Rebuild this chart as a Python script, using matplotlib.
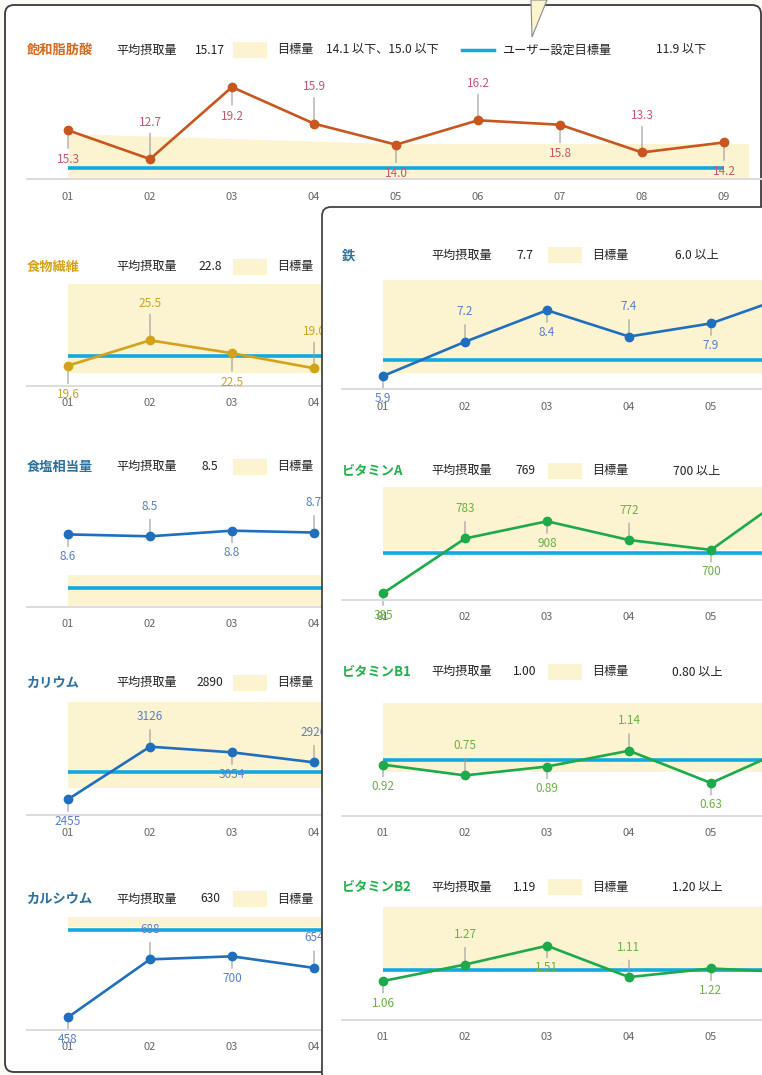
import matplotlib.pyplot as plt
from matplotlib.patches import FancyBboxPatch, Polygon, Rectangle
from matplotlib.lines import Line2D
from matplotlib.transforms import IdentityTransform

plt.rcParams['font.family'] = ['Noto Sans CJK JP', 'DejaVu Sans']

W, H = 762, 1075
months = ["01", "02", "03", "04", "05", "06", "07", "08", "09"]

# ----------------- data -----------------
sfa = [15.3, 12.7, 19.2, 15.9, 14.0, 16.2, 15.8, 13.3, 14.2]
sfa_target = [15.0, 14.775, 14.55, 14.325, 14.1, 14.1, 14.1, 14.1, 14.1]
fiber = [19.6, 25.5, 22.5, 19.0]
salt = [8.6, 8.5, 8.8, 8.7]
potassium = [2455, 3126, 3054, 2926]
calcium = [458, 688, 700, 654]
iron = [5.9, 7.2, 8.4, 7.4, 7.9, 9.0]
vit_a = [385, 783, 908, 772, 700, 1125]
vit_b1 = [0.92, 0.75, 0.89, 1.14, 0.63, 1.21]
vit_b2 = [1.06, 1.27, 1.51, 1.11, 1.22, 1.17]

# ----------------- colours -----------------
BAND = "#fcf3d1"
TARGET = "#12a9e1"
ORANGE = ("#c8561e", "#d2691e", "#c8566e")
GOLD = ("#d4a21a", "#d4a21a", "#c9a227")
BLUE = ("#1f6fbe", "#2b6f9c", "#5a7fc8")
GREEN = ("#1daa4b", "#22b04b", "#6bb043")

charts = [
    # left window
    dict(title="飽和脂肪酸", col=ORANGE, vals=sfa, fmt="{:.1f}", avg="15.17",
         target="14.1 以下、15.0 以下", user="11.9 以下", band=("below", sfa_target),
         blue=11.9, box=(70, 179), ylim=(10.9, 20.74), hy=50, xo=0, off=(37, 29, 26, 18), side="L"),
    dict(title="食物繊維", col=GOLD, vals=fiber, fmt="{:.1f}", avg="22.8",
         target=None, user=None, band=("above", 18.0),
         blue=21.9, box=(284, 385.7), ylim=(14.94, 38.6), hy=266.7, xo=0, off=(37, 29, 26, 18), side="L"),
    dict(title="食塩相当量", col=BLUE, vals=salt, fmt="{:.1f}", avg="8.5",
         target=None, user=None, band=("below", 6.43),
         blue=5.75, box=(500, 606.7), ylim=(4.735, 10.44), hy=466.7, xo=0, off=(30, 22, 17, 12), side="L"),
    dict(title="カリウム", col=BLUE, vals=potassium, fmt="{:d}", avg="2890",
         target=None, user=None, band=("above", 2600),
         blue=2800, box=(702.3, 815), ylim=(2255, 3692), hy=682.7, xo=0, off=(30, 22, 17, 12), side="L"),
    dict(title="カルシウム", col=BLUE, vals=calcium, fmt="{:d}", avg="630",
         target=None, user=None, band=("above", 815),
         blue=805, box=(917.3, 1030), ylim=(407.5, 855), hy=899, xo=0, off=(30, 22, 17, 12), side="L"),
    # right window
    dict(title="鉄", col=BLUE, vals=iron, fmt="{:.1f}", avg="7.7",
         target="6.0 以上", user=None, band=("above", 6.0),
         blue=6.5, box=(280, 389), ylim=(5.406, 9.55), hy=255, xo=315, off=(30, 22, 17, 12), side="R"),
    dict(title="ビタミンA", col=GREEN, vals=vit_a, fmt="{:d}", avg="769",
         target="700 以上", user=None, band=("above", 700),
         blue=680, box=(487.3, 600), ylim=(336.3, 1154.8), hy=470.7, xo=315, off=(30, 22, 17, 12), side="R"),
    dict(title="ビタミンB1", col=GREEN, vals=vit_b1, fmt="{:.2f}", avg="1.00",
         target="0.80 以上", user=None, band=("above", 0.80),
         blue=1.00, box=(702.7, 815.7), ylim=(0.113, 1.899), hy=671.7, xo=315, off=(30, 22, 17, 12), side="R"),
    dict(title="ビタミンB2", col=GREEN, vals=vit_b2, fmt="{:.2f}", avg="1.19",
         target="1.20 以上", user=None, band=("above", 1.20),
         blue=1.20, box=(907.3, 1020), ylim=(0.563, 2.0), hy=887.3, xo=315, off=(30, 22, 17, 12), side="R"),
]

fig = plt.figure(figsize=(W / 100, H / 100), dpi=100)
fig.patch.set_facecolor("#fbfbf8")
ident = IdentityTransform()


def fx(px):
    return px / W


def fy(py):
    return 1 - py / H


# main window and the window on top of it
fig.add_artist(FancyBboxPatch((5, H - 1072), 756, 1067, boxstyle="round,pad=0,rounding_size=9",
                              transform=ident, fc="white", ec="#3a3a3a", lw=1.3, zorder=0.5))
fig.add_artist(FancyBboxPatch((322, -30), 520, H - 207 + 30, boxstyle="round,pad=0,rounding_size=9",
                              transform=ident, fc="white", ec="#444444", lw=1.3, zorder=2))
fig.add_artist(Polygon([(531, H), (547, H), (532, H - 37)], closed=True, transform=ident,
                       fc="#fbf4cc", ec="#8a8a8a", lw=0.8, zorder=5))


def header(c, z):
    xo, y = c["xo"], c["hy"]
    line_col, title_col, _ = c["col"]
    kw = dict(va="center", fontsize=8.7, color="#222222", zorder=z)
    fig.text(fx(xo + 27), fy(y), c["title"], ha="left", fontsize=9.5, fontweight="bold",
             color=title_col, va="center", zorder=z)
    fig.text(fx(xo + 116), fy(y), "平均摂取量", ha="left", **kw)
    fig.text(fx(xo + 210), fy(y), c["avg"], ha="center", **kw)
    fig.add_artist(Rectangle((xo + 233, H - y - 8), 34, 16, transform=ident,
                             fc=BAND, ec="none", zorder=z))
    fig.text(fx(xo + 277), fy(y), "目標量", ha="left", **kw)
    if c["target"]:
        fig.text(fx(xo + 382), fy(y), c["target"], ha="center", **kw)
    if c["user"]:
        fig.add_artist(Line2D([xo + 462, xo + 494], [H - y, H - y], transform=ident,
                              color=TARGET, lw=2.5, zorder=z))
        fig.text(fx(xo + 502), fy(y), "ユーザー設定目標量", ha="left", **kw)
        fig.text(fx(xo + 656), fy(y), c["user"], ha="left", **kw)


for c in charts:
    left = c["side"] == "L"
    z_ax = 1 if left else 3
    header(c, 1.5 if left else 4)

    x0 = 27 + c["xo"]
    top, bot = c["box"]
    ax = fig.add_axes([fx(x0), fy(bot), 738 / W, (bot - top) / H])
    ax.set_zorder(z_ax)
    ax.set_facecolor("none")
    ax.set_xlim(-0.5, 8.5)
    ax.set_ylim(*c["ylim"])
    line_col, _, lab_col = c["col"]

    # target band
    kind, val = c["band"]
    if isinstance(val, list):
        bx = list(range(len(val))) + [8.3]
        by = list(val) + [val[-1]]
    else:
        bx = [0, 8.3]
        by = [val, val]
    if kind == "below":
        ax.fill_between(bx, c["ylim"][0], by, color=BAND, lw=0, zorder=0.5)
    else:
        ax.fill_between(bx, by, c["ylim"][1], color=BAND, lw=0, zorder=0.5)

    # user target line
    ax.hlines(c["blue"], 0, 8, color=TARGET, lw=2.6, zorder=2)

    vals = c["vals"]
    xs = list(range(len(vals)))
    ax.plot(xs, vals, color=line_col, lw=1.9, marker="o", ms=6, zorder=3)

    up, down, lead_up, lead_down = c["off"]
    for i, v in enumerate(vals):
        if i % 2 == 1:
            dy, lead = up, lead_up
        else:
            dy, lead = -down, -lead_down
        ax.annotate("", xy=(i, v), xytext=(0, lead), textcoords="offset pixels",
                    arrowprops=dict(arrowstyle="-", color="#9a9a9a", lw=0.8, shrinkA=0, shrinkB=0),
                    zorder=2.5)
        ax.annotate(c["fmt"].format(v), xy=(i, v), xytext=(0, dy), textcoords="offset pixels",
                    ha="center", va="center", fontsize=8.5, color=lab_col, zorder=5)

    ax.set_xticks(range(9))
    ax.set_xticklabels(months, fontsize=8, color="#666666")
    ax.tick_params(axis="x", length=0, pad=9)
    ax.set_yticks([])
    for s in ["top", "left", "right"]:
        ax.spines[s].set_visible(False)
    ax.spines["bottom"].set_color("#dcdcdc")
    ax.spines["bottom"].set_linewidth(1.4)

fig.savefig("out.png", dpi=100)
